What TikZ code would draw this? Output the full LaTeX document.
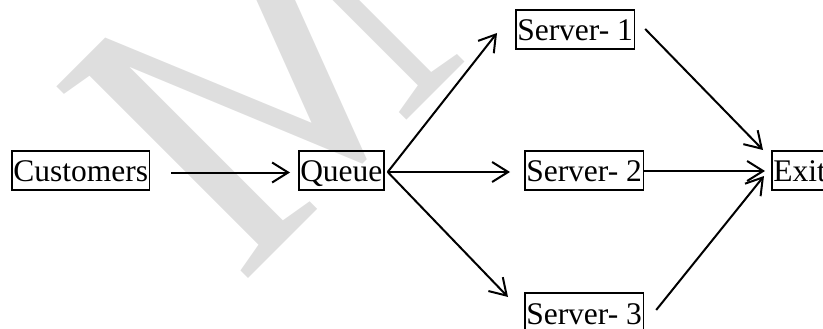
\documentclass[tikz,border=0pt]{standalone}
\usepackage{fontspec}
\usepackage{graphicx}
\setmainfont{Liberation Serif}
\usetikzlibrary{arrows.meta}
\definecolor{wmark}{RGB}{222,222,222}
\tikzset{
  box/.style={draw, line width=1.5pt, anchor=west, inner xsep=1.5pt, inner ysep=1pt,
    text height=30pt, text depth=7pt, font=\fontsize{31.5}{34}\selectfont},
  arr/.style={line width=2pt, -{Straight Barb[length=16pt,width=20pt,line width=2pt]}}
}
\begin{document}
\begin{tikzpicture}[x=1pt,y=-1pt]
\useasboundingbox (0,0) rectangle (823,329);
\begin{scope}
\clip (0,0) rectangle (823,329);
\node[rotate=45, anchor=base west, inner sep=0pt, text=wmark,
  font=\fontsize{414}{414}\selectfont] (wm) at (240.5,286.5) {\scalebox{-0.89}[1]{M}};
\end{scope}
\node[box] (cust) at (11,170.5) {Customers};
\node[box] (queue) at (298,170.5) {Queue};
\node[box] (s1) at (515,29.5) {Server- 1};
\node[box] (s2) at (524,170.5) {Server- 2};
\node[box] (s3) at (524,312.5) {Server- 3};
\node[box] (exit) at (771,170.5) {Exit};
\draw[arr] ([xshift=21pt,yshift=-2pt]cust.east) -- ([xshift=-8pt,yshift=-2pt]queue.west);
\draw[arr] ([xshift=3pt,yshift=-1.5pt]queue.east) -- ([xshift=-18pt,yshift=-3.5pt]s1.west);
\draw[arr] ([xshift=3pt,yshift=-1.5pt]queue.east) -- ([xshift=-14pt,yshift=-1.5pt]s2.west);
\draw[arr] ([xshift=3pt,yshift=-1.5pt]queue.east) -- ([xshift=-16pt,yshift=15.5pt]s3.west);
\draw[arr] ([xshift=10pt,yshift=0.5pt]s1.east) -- ([xshift=-8pt,yshift=20.5pt]exit.west);
\draw[arr] ([xshift=0pt,yshift=-0.5pt]s2.east) -- ([xshift=-6pt,yshift=-0.5pt]exit.west);
\draw[arr] ([xshift=12pt,yshift=2.5pt]s3.east) -- ([xshift=-7pt,yshift=-5.5pt]exit.west);
\end{tikzpicture}
\end{document}
